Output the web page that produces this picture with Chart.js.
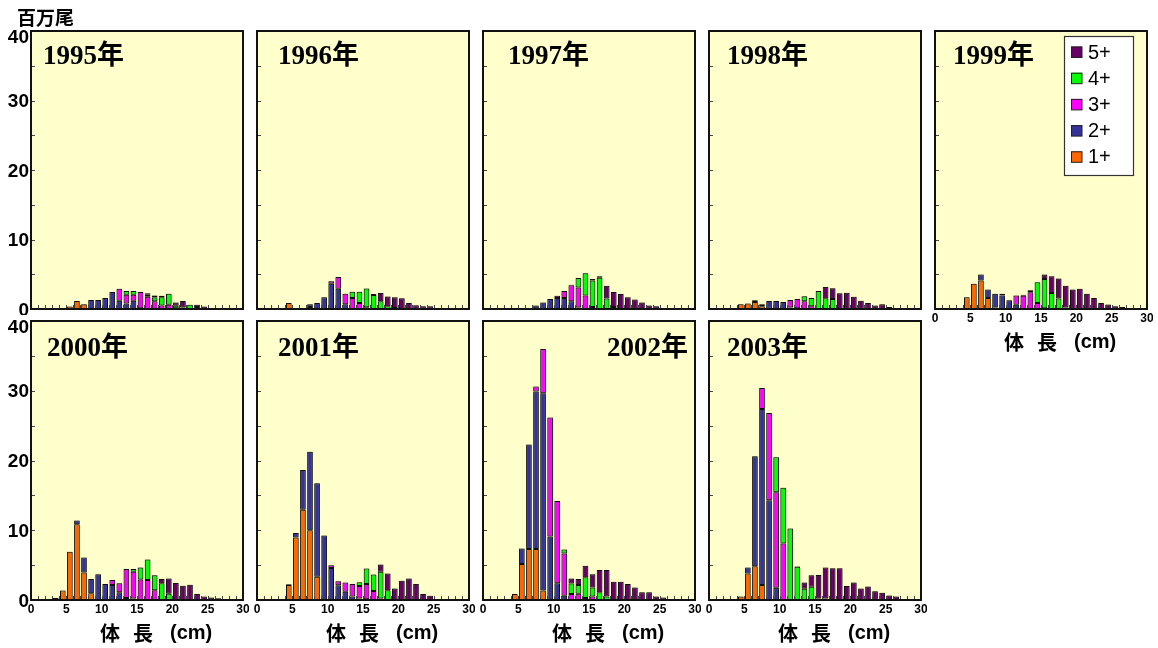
<!DOCTYPE html>
<html><head><meta charset="utf-8">
<script src="https://cdn.jsdelivr.net/npm/chart.js@4.4.0/dist/chart.umd.min.js"></script>
<style>
html,body{margin:0;padding:0;background:#fff;}
#wrap{position:relative;width:1158px;height:648px;overflow:hidden;background:#fff;}
canvas{position:absolute;}
</style></head><body><div id="wrap"></div>
<script>
// ---- categories / tick labels ----
const lengthBins = [3,4,5,6,7,8,9,10,11,12,13,14,15,16,17,18,19,20,21,22,23,24,25,26,27]; // lower edge (cm)
const ageClasses = ['1+','2+','3+','4+','5+'];
const ageColors  = ['#FF6600','#333399','#FF00FF','#00FF00','#660066'];
const yTickValues = [0,10,20,30,40];
const xTickValues = [0,5,10,15,20,25,30];
const yearLabels = ['1995','1996','1997','1998','1999','2000','2001','2002','2003'];
const yUnit = '百万尾';
const xTitleParts = ['体','長','(cm)'];

// ---- series values (百万尾), bins 3..27 cm ----
const y1995_1 = [0,0.05,0.35,1.15,0.7,0,0,0,0,0,0,0,0,0,0,0,0,0,0,0,0,0,0,0,0];
const y1995_2 = [0,0,0,0,0,1.3,1.3,1.6,2.45,1.2,0.8,1.2,0.1,0,0,0,0,0,0,0,0,0,0,0,0];
const y1995_3 = [0,0,0,0,0,0,0,0,0,1.7,1.25,0.85,2.35,1.75,1.1,0.5,0.6,0.1,0,0,0,0,0,0,0];
const y1995_4 = [0,0,0,0,0,0,0,0,0,0,0.55,0.55,0,0.3,0.55,1.2,1.6,0.35,0.2,0.6,0.3,0,0,0,0];
const y1995_5 = [0,0,0,0,0,0,0,0,0,0,0,0,0,0.2,0.3,0.2,0,0.5,0.95,0,0.3,0.35,0.1,0,0];

const y1996_1 = [0,0.85,0,0.1,0.3,0,0,0,0,0,0,0,0,0,0,0,0,0,0,0,0,0,0,0,0];
const y1996_2 = [0,0,0,0,0.4,0.85,1.7,3.65,2.9,0.7,0,0,0,0,0,0,0,0,0,0,0,0,0,0,0];
const y1996_3 = [0,0,0,0,0,0,0,0.35,1.7,1.5,1.6,0.85,0.25,0,0,0,0,0,0,0,0,0,0,0,0];
const y1996_4 = [0,0,0,0,0,0,0,0,0,0,0.9,1.65,2.7,2.0,1.1,0.4,0.15,0,0,0,0,0,0,0,0];
const y1996_5 = [0,0,0,0,0,0,0,0,0,0,0,0,0,0.15,1.2,1.4,1.55,1.55,0.85,0.55,0.4,0.4,0.1,0.1,0];

const y1997_1 = [0,0,0,0.1,0.1,0,0,0,0,0,0,0,0,0,0,0,0,0,0,0,0,0,0,0,0];
const y1997_2 = [0,0,0,0,0.4,0.95,1.45,1.6,1.6,1.1,0.2,0,0,0,0,0,0,0,0,0,0,0,0,0,0];
const y1997_3 = [0,0,0,0,0,0,0,0.3,1.0,2.3,2.9,1.95,0.3,0,0,0,0,0,0,0,0,0,0,0,0];
const y1997_4 = [0,0,0,0,0,0,0,0,0,0.1,1.35,3.2,3.8,4.5,1.5,0.3,0,0,0,0,0,0,0,0,0];
const y1997_5 = [0,0,0,0,0,0,0,0,0,0,0,0,0.2,0.2,1.85,2.15,2.15,1.7,1.35,0.95,0.5,0.4,0.1,0.1,0];

const y1998_1 = [0,0.7,0.8,1.0,0.4,0.05,0,0,0,0,0,0,0,0,0,0,0,0,0,0,0,0,0,0,0];
const y1998_2 = [0,0,0,0.25,0.3,1.1,1.15,1.0,0.2,0.1,0,0,0,0,0,0,0,0,0,0,0,0,0,0,0];
const y1998_3 = [0,0,0,0,0,0,0,0,1.1,1.35,1.1,0.4,0,0,0,0,0,0,0,0,0,0,0,0,0];
const y1998_4 = [0,0,0,0,0,0,0,0,0,0,0.75,1.2,2.6,1.55,1.45,0,0,0,0,0,0,0,0,0,0];
const y1998_5 = [0,0,0,0,0,0,0,0,0,0,0,0,0,1.6,1.55,2.25,2.35,1.75,1.2,0.85,0.5,0.7,0.3,0.05,0];

const y1999_1 = [0.05,1.7,3.65,4.1,1.6,0.2,0,0,0,0,0,0,0,0,0,0,0,0,0,0,0,0,0,0,0];
const y1999_2 = [0,0,0,0.85,1.2,2.0,1.95,1.25,0.6,0,0,0,0,0,0,0,0,0,0,0,0,0,0,0,0];
const y1999_3 = [0,0,0,0,0,0,0.25,0,1.35,1.9,2.4,0.85,0.1,0,0,0,0,0,0,0,0,0,0,0,0];
const y1999_4 = [0,0,0,0,0,0,0,0,0,0.15,0.3,3.0,4.2,2.3,1.5,0.2,0,0,0,0,0,0,0,0,0];
const y1999_5 = [0,0,0,0,0,0,0,0,0,0,0,0,0.65,2.4,2.9,3.15,2.8,2.9,2.2,1.6,0.85,0.65,0.4,0.3,0];

const y2000_1 = [0.3,1.35,6.9,10.85,3.95,0.95,0,0,0,0,0,0,0,0,0,0,0,0,0,0,0,0,0,0,0];
const y2000_2 = [0,0,0,0.55,2.15,2.05,3.7,2.3,2.15,1.1,0.3,0.2,0,0,0,0,0,0,0,0,0,0,0,0,0];
const y2000_3 = [0,0,0,0,0,0,0,0,0.7,1.3,4.15,3.85,2.95,2.85,1.4,0,0,0,0,0,0,0,0,0,0];
const y2000_4 = [0,0,0,0,0,0,0,0,0,0,0,0.4,1.7,2.95,2.15,2.4,0.9,0,0,0,0,0,0,0,0];
const y2000_5 = [0,0,0,0,0,0,0,0,0,0,0,0,0,0,0,0.6,2.2,2.45,2.05,2.2,0.85,0.5,0.35,0.25,0];

const y2001_1 = [0,2.15,8.95,12.95,10.0,3.35,0,0,0,0,0,0,0,0,0,0,0,0,0,0,0,0,0,0,0];
const y2001_2 = [0,0.1,0.65,5.7,11.25,13.4,9.25,4.6,2.1,1.2,0.5,0.2,0.1,0,0,0,0,0,0,0,0,0,0,0,0];
const y2001_3 = [0,0,0,0,0,0,0,0.4,0.6,1.3,1.8,1.8,2.2,1.3,0.2,0,0,0,0,0,0,0,0,0,0];
const y2001_4 = [0,0,0,0,0,0,0,0,0,0,0,0.55,2.2,2.35,3.85,1.4,0,0,0,0,0,0,0,0,0];
const y2001_5 = [0,0,0,0,0,0,0,0,0,0,0,0,0,0,1.05,2.4,1.65,2.75,3.1,2.3,0.85,0.6,0.15,0,0.05];

const y2002_1 = [0,0.85,5.15,7.3,7.3,1.35,0,0,0,0,0,0,0,0,0,0,0,0,0,0,0,0,0,0,0];
const y2002_2 = [0,0,2.25,15.0,22.6,28.3,9.1,2.4,0.6,0,0,0,0,0,0,0,0,0,0,0,0,0,0,0,0];
const y2002_3 = [0,0,0,0,0.7,6.35,17.05,11.8,6.05,0.85,0.9,0.3,0.5,0,0,0,0,0,0,0,0,0,0,0,0];
const y2002_4 = [0,0,0,0,0,0,0,0,0.6,1.5,1.25,2.95,1.3,1.1,0.5,0,0,0,0,0,0,0,0,0,0];
const y2002_5 = [0,0,0,0,0,0,0,0,0,0.75,0.85,1.65,1.9,3.2,3.8,2.6,2.6,2.3,1.8,1.1,1.1,0.5,0.35,0.1,0];

const y2003_1 = [0,0.5,3.8,4.85,2.15,0,0,0,0,0,0,0,0,0,0,0,0,0,0,0,0,0,0,0,0];
const y2003_2 = [0,0,0.85,15.75,25.25,14.3,1.75,0,0,0,0,0,0,0,0,0,0,0,0,0,0,0,0,0,0];
const y2003_3 = [0,0,0,0,3.0,12.5,13.7,8.1,0,0,0,0,0,0,0,0,0,0,0,0,0,0,0,0,0];
const y2003_4 = [0,0,0,0,0,0,5.0,8.0,10.25,4.75,1.6,1.9,0.2,0.2,0,0,0,0,0,0,0,0,0,0,0];
const y2003_5 = [0,0,0,0,0,0,0,0,0,0.1,0.9,1.65,3.4,4.45,4.55,4.55,2.0,2.5,1.65,1.95,1.25,1.05,0.65,0.5,0];

const seriesByYear = {
  '1995':[y1995_1,y1995_2,y1995_3,y1995_4,y1995_5],
  '1996':[y1996_1,y1996_2,y1996_3,y1996_4,y1996_5],
  '1997':[y1997_1,y1997_2,y1997_3,y1997_4,y1997_5],
  '1998':[y1998_1,y1998_2,y1998_3,y1998_4,y1998_5],
  '1999':[y1999_1,y1999_2,y1999_3,y1999_4,y1999_5],
  '2000':[y2000_1,y2000_2,y2000_3,y2000_4,y2000_5],
  '2001':[y2001_1,y2001_2,y2001_3,y2001_4,y2001_5],
  '2002':[y2002_1,y2002_2,y2002_3,y2002_4,y2002_5],
  '2003':[y2003_1,y2003_2,y2003_3,y2003_4,y2003_5]
};

// ---- layout (positions only) ----
const PW = 212;
const layout = [
  {left:31,  top:31,  h:278, padL:32, padT:31, padB:6,  yLab:true,  xLab:false, unit:true, tx:12,  talign:'left',  ty:33},
  {left:257, top:31,  h:278, padL:6,  padT:8,  padB:6,  yLab:false, xLab:false, tx:21,  talign:'left',  ty:33},
  {left:483, top:31,  h:278, padL:6,  padT:8,  padB:6,  yLab:false, xLab:false, tx:25,  talign:'left',  ty:33},
  {left:709, top:31,  h:278, padL:6,  padT:8,  padB:6,  yLab:false, xLab:false, tx:18,  talign:'left',  ty:33},
  {left:935, top:31,  h:278, padL:6,  padT:8,  padB:50, yLab:false, xLab:true, legend:true, tx:18, talign:'left', ty:33},
  {left:31,  top:321, h:279, padL:32, padT:6,  padB:47, yLab:true,  xLab:true, tx:16,  talign:'left',  ty:35},
  {left:257, top:321, h:279, padL:6,  padT:6,  padB:47, yLab:false, xLab:true, tx:21,  talign:'left',  ty:35},
  {left:483, top:321, h:279, padL:6,  padT:6,  padB:47, yLab:false, xLab:true, tx:205, talign:'right', ty:35},
  {left:709, top:321, h:279, padL:6,  padT:6,  padB:47, yLab:false, xLab:true, tx:18,  talign:'left',  ty:35}
];

function panelPlugin(cfg, year){
  return {
    id: 'panel' + year,
    beforeDatasetsDraw(chart){
      const a = chart.chartArea, c = chart.ctx;
      c.save(); c.fillStyle = '#FFFFCC';
      c.fillRect(a.left, a.top, a.right - a.left, a.bottom - a.top);
      c.restore();
      // soft grey halo round the bars, as in the original
      c.shadowColor = 'rgba(0,0,0,0.45)';
      c.shadowBlur = 2; c.shadowOffsetX = 0; c.shadowOffsetY = 0;
    },
    afterDatasetsDraw(chart){
      const a = chart.chartArea, c = chart.ctx, xs = chart.scales.x, ys = chart.scales.y;
      c.shadowColor = 'rgba(0,0,0,0)'; c.shadowBlur = 0;
      c.save();
      // inner tick marks
      c.strokeStyle = '#444'; c.lineWidth = 1;
      for (let v = 1; v < 30; v++) {
        const px = Math.round(xs.getPixelForValue(v)) + 0.5;
        c.beginPath(); c.moveTo(px, a.bottom); c.lineTo(px, a.bottom - 4); c.stroke();
      }
      for (let v = 5; v < 40; v += 5) {
        const py = Math.round(ys.getPixelForValue(v)) + 0.5;
        c.beginPath(); c.moveTo(a.left, py); c.lineTo(a.left + 4, py); c.stroke();
      }
      // frame
      c.strokeStyle = '#111'; c.lineWidth = 2;
      c.strokeRect(a.left, a.top, a.right - a.left, a.bottom - a.top);
      c.fillStyle = '#000';
      // y tick labels
      if (cfg.yLab) {
        c.font = 'bold 19px "Liberation Sans", Arial, sans-serif';
        c.textAlign = 'right'; c.textBaseline = 'middle';
        yTickValues.forEach(v => {
          const py = Math.max(ys.getPixelForValue(v) + 1.5, a.top + 7);
          c.fillText(String(v), a.left - 2, py);
        });
      }
      if (cfg.unit) {
        c.font = 'bold 19px "Noto Sans CJK JP", sans-serif';
        c.textAlign = 'left'; c.textBaseline = 'middle';
        c.fillText(yUnit, a.left - 14, a.top - 13);
      }
      // x tick labels + title
      if (cfg.xLab) {
        c.font = 'bold 12px "Liberation Sans", Arial, sans-serif';
        c.textAlign = 'center'; c.textBaseline = 'middle';
        xTickValues.forEach(v => c.fillText(String(v), xs.getPixelForValue(v), a.bottom + 10));
        c.textAlign = 'left';
        c.font = 'bold 20px "Noto Sans CJK JP", sans-serif';
        c.fillText(xTitleParts[0], a.left + 69, a.bottom + 33);
        c.fillText(xTitleParts[1], a.left + 102, a.bottom + 33);
        c.font = 'bold 20px "Liberation Sans", Arial, sans-serif';
        c.fillText(xTitleParts[2], a.left + 139, a.bottom + 33);
      }
      // year title
      c.font = 'bold 27px "Liberation Serif", "Noto Sans CJK JP", serif';
      c.textAlign = cfg.talign; c.textBaseline = 'alphabetic';
      c.fillText(year + '年', a.left + cfg.tx, a.top + cfg.ty);
      // legend
      if (cfg.legend) {
        const bx = a.left + 129, by = a.top + 5, bw = 69, bh = 139;
        c.fillStyle = '#fff'; c.fillRect(bx, by, bw, bh);
        c.strokeStyle = '#333'; c.lineWidth = 1.2; c.strokeRect(bx + 0.5, by + 0.5, bw, bh);
        const ds = chart.data.datasets.slice().reverse();
        c.font = '20px "Liberation Sans", Arial, sans-serif';
        c.textAlign = 'left'; c.textBaseline = 'middle';
        ds.forEach((d, i) => {
          const cy = by + 16 + i * 26.2;
          c.fillStyle = d.backgroundColor; c.fillRect(bx + 7, cy - 5.5, 11, 11);
          c.strokeStyle = '#222'; c.lineWidth = 1; c.strokeRect(bx + 7.5, cy - 5, 10.5, 10.5);
          c.fillStyle = '#000'; c.fillText(d.label, bx + 24, cy + 1);
        });
      }
      c.restore();
    }
  };
}

const wrap = document.getElementById('wrap');
yearLabels.forEach((year, p) => {
  const cfg = layout[p];
  const padR = 6;
  const w = cfg.padL + PW + padR, h = cfg.padT + cfg.h + cfg.padB;
  const cv = document.createElement('canvas');
  cv.width = w; cv.height = h;
  cv.style.width = w + 'px'; cv.style.height = h + 'px';
  cv.style.left = (cfg.left - cfg.padL) + 'px';
  cv.style.top = (cfg.top - cfg.padT) + 'px';
  wrap.appendChild(cv);
  const series = seriesByYear[year];
  const datasets = ageClasses.map((lab, k) => ({
    label: lab,
    data: lengthBins.map((b, i) => ({ x: b + 0.5, y: series[k][i] || null })),
    backgroundColor: ageColors[k],
    borderColor: '#111',
    borderWidth: 1,
    borderSkipped: false,
    barPercentage: 1,
    categoryPercentage: 0.8
  }));
  new Chart(cv, {
    type: 'bar',
    data: { datasets },
    options: {
      responsive: false, animation: false, devicePixelRatio: 1,
      layout: { padding: { left: cfg.padL, right: padR, top: cfg.padT, bottom: cfg.padB } },
      plugins: { legend: { display: false }, tooltip: { enabled: false }, title: { display: false } },
      scales: {
        x: { type: 'linear', min: 0, max: 30, stacked: true, offset: false, display: false, ticks: { stepSize: 5 } },
        y: { type: 'linear', min: 0, max: 40, stacked: true, display: false }
      }
    },
    plugins: [panelPlugin(cfg, year)]
  });
});
</script>
</body></html>
